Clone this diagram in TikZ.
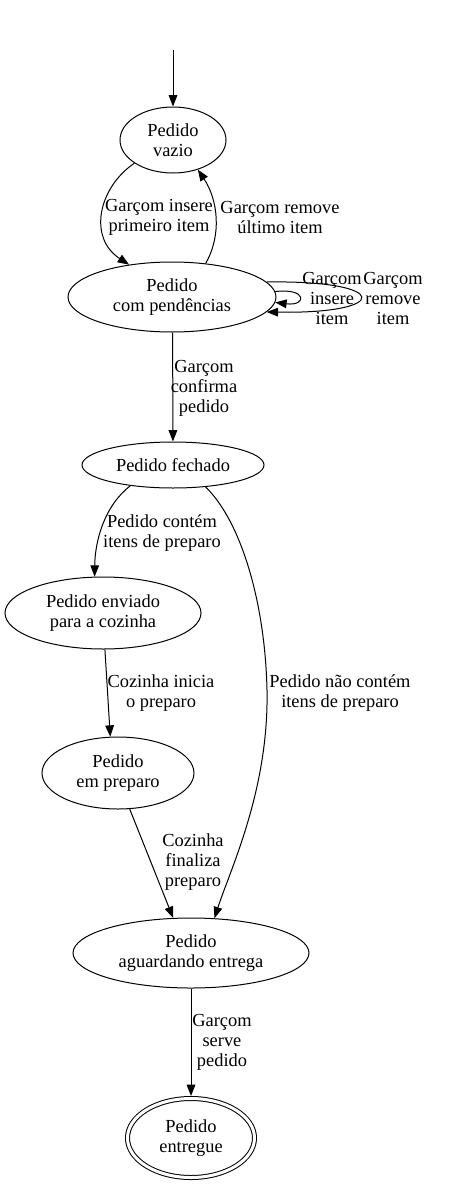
\documentclass[tikz,border=0pt]{standalone}
\usepackage{fontspec}
\setmainfont{Liberation Serif}
\usetikzlibrary{shapes.geometric,arrows.meta,positioning}

\begin{document}
\begin{tikzpicture}[x=0.75pt,y=-0.75pt,line width=0.75pt,
  state/.style={draw,ellipse,inner sep=0pt,align=center,font=\fontsize{13.8}{15}\selectfont},
  lbl/.style={align=center,inner sep=0pt,font=\fontsize{13.8}{15}\selectfont},
  arr/.style={-{Triangle[length=8.5pt,width=6.5pt]}}]
\useasboundingbox (0,0) rectangle (453,1185);
% estados
\coordinate (start) at (173,50);
\node[state,minimum width=79.5pt,minimum height=49.5pt] (vazio) at (173,140) {Pedido\\vazio};
\node[state,minimum width=156pt,minimum height=52.5pt] (pend) at (172,297) {Pedido\\com pendências};
\node[state,minimum width=136.5pt,minimum height=34.5pt] (fechado) at (173,465) {Pedido fechado};
\node[state,minimum width=147pt,minimum height=54pt] (enviado) at (103,613) {Pedido enviado\\para a cozinha};
\node[state,minimum width=114pt,minimum height=54pt] (preparo) at (118,773) {Pedido\\em preparo};
\node[state,minimum width=177pt,minimum height=52.5pt] (aguard) at (191,953) {Pedido\\aguardando entrega};
\node[state,double,double distance=2.25pt,minimum width=95.25pt,minimum height=59.25pt] (entregue) at (191,1138) {Pedido\\entregue};
% rotulos
\node[lbl] (l1) at (159,217) {Garçom insere\\primeiro item};
\node[lbl] (l2) at (280,217) {Garçom remove\\último item};
\node[lbl] (l3) at (332,298) {Garçom\\insere\\item};
\node[lbl] (l4) at (393,298) {Garçom\\remove\\item};
\node[lbl] (l5) at (204,388) {Garçom\\confirma\\pedido};
\node[lbl] (l6) at (162,533) {Pedido contém\\itens de preparo};
\node[lbl] (l7) at (340,693) {Pedido não contém\\itens de preparo};
\node[lbl] (l8) at (161,693) {Cozinha inicia\\o preparo};
\node[lbl] (l9) at (193,862) {Cozinha\\finaliza\\preparo};
\node[lbl] (l10) at (222,1042) {Garçom\\serve\\pedido};
% transicoes
\draw[arr] (start) -- (vazio);
\draw[arr] (vazio.211) .. controls (98,188) and (88,238) .. (pend.143);
\draw[arr] (pend.45) .. controls (222,235) and (218,200) .. (vazio.-50);
\draw[arr] (pend.3) .. controls +(32,-4) and +(32,4) .. (pend.-3);
\draw[arr] (pend.9) .. controls +(125,-2) and +(125,2) .. (pend.-9);
\draw[arr] (pend.-89.5) -- (fechado);
\draw[arr] (fechado.206) .. controls (105,505) and (95,540) .. (enviado.103);
\draw[arr] (fechado.-34) .. controls (240,520) and (265,600) .. (267,690)
  .. controls (269,790) and (230,870) .. (aguard.56);
\draw[arr] (enviado.-87) -- (preparo.102);
\draw[arr] (preparo.-72) -- (aguard.117);
\draw[arr,shorten >=1.5pt] (aguard) -- (entregue);
\end{tikzpicture}
\end{document}
